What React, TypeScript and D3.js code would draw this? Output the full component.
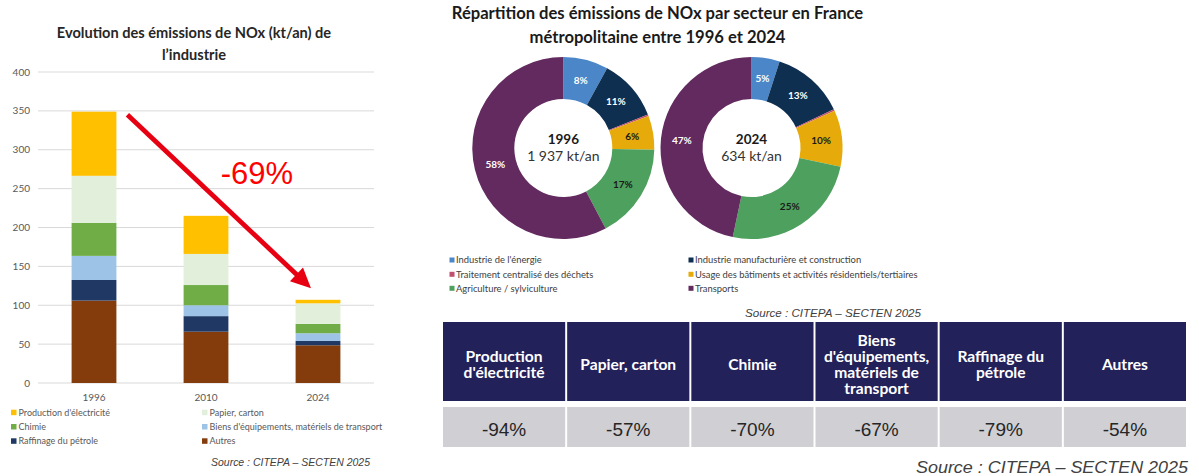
import { useEffect } from "react";
import * as d3 from "d3";

// ---- left chart: industry NOx emissions (kt/an)
const years = ["1996", "2010", "2024"];
const autres = [106, 66, 48.5];
const raffinage = [26.5, 20, 5.5];
const biens = [31, 14, 10];
const chimie = [42.5, 26, 12];
const papier = [60.5, 40, 26.5];
const production = [82.5, 49, 4.5];
const yTicks = [0, 50, 100, 150, 200, 250, 300, 350, 400];

const seriesKeys = ["autres", "raffinage", "biens", "chimie", "papier", "production"];
const seriesLabels: Record<string, string> = {
  production: "Production d'électricité",
  papier: "Papier, carton",
  chimie: "Chimie",
  biens: "Biens d'équipements, matériels de transport",
  raffinage: "Raffinage du pétrole",
  autres: "Autres",
};
const seriesColors: Record<string, string> = {
  autres: "#843c0c",
  raffinage: "#1f3864",
  biens: "#9dc3e6",
  chimie: "#70ad47",
  papier: "#e2efda",
  production: "#ffc000",
};
const leftLegendOrder = ["production", "papier", "chimie", "biens", "raffinage", "autres"];

// ---- donuts: share by sector (%)
const sectors = [
  "Industrie de l'énergie",
  "Industrie manufacturière et construction",
  "Traitement centralisé des déchets",
  "Usage des bâtiments et activités résidentiels/tertiaires",
  "Agriculture / sylviculture",
  "Transports",
];
const sectorColors = ["#4a86c8", "#0e2f50", "#c0506e", "#e6ab0b", "#4ea05e", "#622a5e"];
const sectorLabelColors = ["#fff", "#fff", "#fff", "#1a1a1a", "#1a1a1a", "#fff"];
const shares1996 = [8, 11, 0.3, 6, 17, 57.7];
const shares2024 = [5, 13, 0.3, 10, 25, 46.7];
const donutYears = ["1996", "2024"];
const donutTotals = [1937, 634];

// ---- table: change 1996-2024 by industry
const tableHeaders = [
  ["Production", "d'électricité"],
  ["Papier, carton"],
  ["Chimie"],
  ["Biens", "d'équipements,", "matériels de", "transport"],
  ["Raffinage du", "pétrole"],
  ["Autres"],
];
const tableValues = [-94, -57, -70, -67, -79, -54];

const W = 1199;
const H = 476;
const calibri = "Lato, 'Open Sans', sans-serif";
const arial = "'Liberation Sans', Arial, sans-serif";

const fr = d3.formatLocale({ decimal: ",", thousands: "\u00a0", grouping: [3], currency: ["", " €"] });
const fmtInt = fr.format(",d");

function LeftChart() {
  const rows = years.map((yr, i) => ({
    year: yr,
    autres: autres[i],
    raffinage: raffinage[i],
    biens: biens[i],
    chimie: chimie[i],
    papier: papier[i],
    production: production[i],
  }));
  const stack = d3.stack<any>().keys(seriesKeys);
  const series = stack(rows);
  const x = d3.scaleBand().domain(years).range([38, 374]).paddingInner(0.6).paddingOuter(0.3);
  const y = d3.scaleLinear().domain([0, 400]).range([383, 72]);

  const totals = rows.map((r) => seriesKeys.reduce((s, k) => s + (r as any)[k], 0));
  const change = Math.round((totals[2] / totals[0] - 1) * 100);

  // arrow from top of 1996 to above 2024
  const x0 = x("1996")! + x.bandwidth() + 11;
  const y0 = y(345);
  const x1 = x("2024")! + x.bandwidth() / 2 - 7;
  const y1 = y(122);
  const len = Math.hypot(x1 - x0, y1 - y0);
  const ux = (x1 - x0) / len;
  const uy = (y1 - y0) / len;
  const headL = 20;
  const headW = 9.5;
  const bx = x1 - ux * headL;
  const by = y1 - uy * headL;
  const head = [
    [x1, y1],
    [bx - uy * headW, by + ux * headW],
    [bx + uy * headW, by - ux * headW],
  ];

  return (
    <g>
      <text x={194} y={37.5} textAnchor="middle" fontFamily={calibri} fontWeight={700} fontSize={14.6} fill="#262626">
        Evolution des émissions de NOx (kt/an) de
      </text>
      <text x={194} y={59.5} textAnchor="middle" fontFamily={calibri} fontWeight={700} fontSize={14.6} fill="#262626">
        l’industrie
      </text>
      {yTicks.map((t) => (
        <g key={t}>
          <line x1={38} x2={374} y1={y(t)} y2={y(t)} stroke="#d9d9d9" strokeWidth={1} />
          <text x={30} y={y(t) + 3.5} textAnchor="end" fontFamily={calibri} fontSize={10} fill="#595959">
            {t}
          </text>
        </g>
      ))}
      {series.map((s) => (
        <g key={s.key} fill={seriesColors[s.key]}>
          {s.map((d) => (
            <rect
              key={d.data.year}
              x={x(d.data.year)}
              width={x.bandwidth()}
              y={y(d[1])}
              height={y(d[0]) - y(d[1])}
            />
          ))}
        </g>
      ))}
      {years.map((yr) => (
        <text
          key={yr}
          x={x(yr)! + x.bandwidth() / 2}
          y={401}
          textAnchor="middle"
          fontFamily={calibri}
          fontSize={10}
          fill="#595959"
        >
          {yr}
        </text>
      ))}
      <line x1={x0} y1={y0} x2={bx + ux * 2} y2={by + uy * 2} stroke="#e60012" strokeWidth={4.8} />
      <polygon points={head.map((p) => p.join(",")).join(" ")} fill="#e60012" />
      <text x={257} y={y(256)} textAnchor="middle" fontFamily={arial} fontSize={31} fill="#ff0000">
        {change}%
      </text>
      {leftLegendOrder.map((k, i) => {
        const lx = i % 2 === 0 ? 11 : 202;
        const ly = [412.7, 427, 441.3][Math.floor(i / 2)];
        return (
          <g key={k}>
            <rect x={lx} y={ly - 3} width={5.5} height={5.5} fill={seriesColors[k]} />
            <text x={lx + 7.5} y={ly + 3} fontFamily={calibri} fontSize={9} fill="#595959">
              {seriesLabels[k]}
            </text>
          </g>
        );
      })}
      <text
        x={211}
        y={466}
        fontFamily={arial}
        fontStyle="italic"
        fontSize={11}
        fill="#404040"
        textLength={159}
        lengthAdjust="spacingAndGlyphs"
      >
        Source : CITEPA – SECTEN 2025
      </text>
    </g>
  );
}

function Donut({ cx, cy, shares, year, total }: { cx: number; cy: number; shares: number[]; year: string; total: number }) {
  const pie = d3.pie<number>().sort(null).value((d) => d)(shares);
  const arc = d3.arc<d3.PieArcDatum<number>>().innerRadius(49).outerRadius(91);
  const labelArc = d3.arc<d3.PieArcDatum<number>>().innerRadius(70).outerRadius(70);
  return (
    <g transform={`translate(${cx},${cy})`}>
      {pie.map((p, i) => (
        <path key={i} d={arc(p)!} fill={sectorColors[i]} />
      ))}
      {pie.map((p, i) => {
        if (p.value < 1) return null;
        const [lx, ly] = labelArc.centroid(p);
        return (
          <text
            key={`l${i}`}
            x={lx}
            y={ly + 3.5}
            textAnchor="middle"
            fontFamily={calibri}
            fontWeight={700}
            fontSize={10}
            fill={sectorLabelColors[i]}
          >
            {Math.round(p.value)}%
          </text>
        );
      })}
      <text y={-4.5} textAnchor="middle" fontFamily={calibri} fontWeight={700} fontSize={13.5} fill="#1a1a1a">
        {year}
      </text>
      <text y={12.5} textAnchor="middle" fontFamily={calibri} fontSize={14} fill="#333">
        {fmtInt(total)} kt/an
      </text>
    </g>
  );
}

function RightPanel() {
  const cols = d3.scaleBand().domain(tableHeaders.map((_, i) => String(i))).range([443, 1186]).paddingInner(0.016);
  const allShares = [shares1996, shares2024];
  const centers = [563.3, 751.5];
  return (
    <g>
      <text x={657.5} y={18.5} textAnchor="middle" fontFamily={calibri} fontWeight={700} fontSize={16.6} fill="#1a1a1a">
        Répartition des émissions de NOx par secteur en France
      </text>
      <text x={657.5} y={42.5} textAnchor="middle" fontFamily={calibri} fontWeight={700} fontSize={16.6} fill="#1a1a1a">
        métropolitaine entre 1996 et 2024
      </text>
      {donutYears.map((yr, i) => (
        <Donut key={yr} cx={centers[i]} cy={148} shares={allShares[i]} year={yr} total={donutTotals[i]} />
      ))}
      {sectors.map((s, i) => {
        const lx = i % 2 === 0 ? 449.5 : 688.5;
        const ly = [260, 274.3, 288.3][Math.floor(i / 2)];
        return (
          <g key={s}>
            <rect x={lx} y={ly - 2.5} width={5} height={5} fill={sectorColors[i]} />
            <text x={lx + 6.5} y={ly + 3.2} fontFamily={calibri} fontSize={9.4} fill="#404040">
              {s}
            </text>
          </g>
        );
      })}
      <text
        x={921}
        y={317}
        textAnchor="end"
        fontFamily={arial}
        fontStyle="italic"
        fontSize={11.5}
        fill="#404040"
        textLength={176}
        lengthAdjust="spacingAndGlyphs"
      >
        Source : CITEPA – SECTEN 2025
      </text>
      {tableHeaders.map((lines, i) => {
        const cx0 = cols(String(i))!;
        const cw = cols.bandwidth();
        const lh = 15.8;
        const top = 364.5 - ((lines.length - 1) * lh) / 2;
        return (
          <g key={i}>
            <rect x={cx0} y={322} width={cw} height={79} fill="#23215a" />
            {lines.map((ln, j) => (
              <text
                key={j}
                x={cx0 + cw / 2}
                y={top + j * lh + 5.5}
                textAnchor="middle"
                fontFamily={calibri}
                fontWeight={700}
                fontSize={15.6}
                fill="#fff"
              >
                {ln}
              </text>
            ))}
            <rect x={cx0} y={407} width={cw} height={40} fill="#d0cfd4" />
            <text x={cx0 + cw / 2} y={436} textAnchor="middle" fontFamily={arial} fontSize={19} fill="#262626">
              {tableValues[i]}%
            </text>
          </g>
        );
      })}
      <text
        x={1188}
        y={473}
        textAnchor="end"
        fontFamily={arial}
        fontStyle="italic"
        fontSize={17}
        fill="#404040"
        textLength={272}
        lengthAdjust="spacingAndGlyphs"
      >
        Source : CITEPA – SECTEN 2025
      </text>
    </g>
  );
}

export default function App() {
  useEffect(() => {
    document.body.style.margin = "0";
  }, []);
  return (
    <div style={{ position: "absolute", left: 0, top: 0, width: W, height: H, overflow: "hidden", background: "#fff" }}>
      <svg width={W} height={H} viewBox={`0 0 ${W} ${H}`} style={{ display: "block" }}>
        <rect width={W} height={H} fill="#fff" />
        <LeftChart />
        <RightPanel />
      </svg>
    </div>
  );
}
